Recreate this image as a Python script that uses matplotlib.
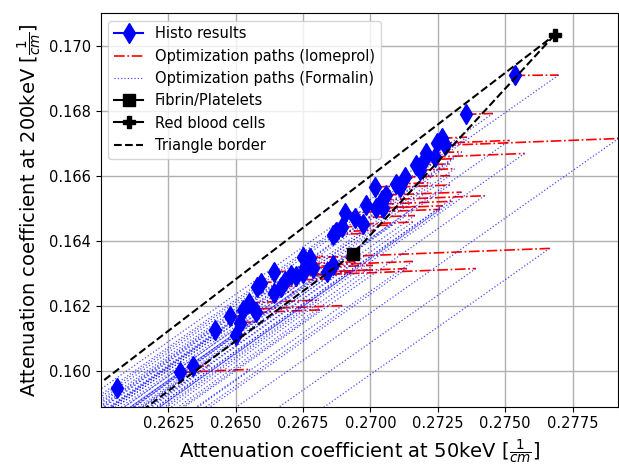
import numpy as np
import matplotlib
matplotlib.use("Agg")
import matplotlib.pyplot as plt

# Histo results (mu at 50 keV, mu at 200 keV)
histo_50 = [0.26061, 0.26294, 0.26343, 0.26424, 0.26480, 0.26502, 0.26517, 0.26528,
            0.26550, 0.26576, 0.26580, 0.26643, 0.26643, 0.26669, 0.26683, 0.26706,
            0.26724, 0.26750, 0.26757, 0.26776, 0.26787, 0.26750, 0.26839, 0.26861,
            0.26861, 0.26872, 0.26894, 0.26906, 0.26943, 0.26972, 0.26983, 0.27017,
            0.27020, 0.27043, 0.27046, 0.27057, 0.27094, 0.27109, 0.27128, 0.27169,
            0.27183, 0.27206, 0.27198, 0.27239, 0.27246, 0.27265, 0.27276, 0.27354,
            0.27535, 0.26776, 0.26594]
histo_200 = [0.15947, 0.15996, 0.16014, 0.16125, 0.16168, 0.16112, 0.16149, 0.16189,
             0.16210, 0.16180, 0.16259, 0.16305, 0.16241, 0.16259, 0.16278, 0.16296,
             0.16293, 0.16351, 0.16321, 0.16330, 0.16318, 0.16302, 0.16305, 0.16327,
             0.16419, 0.16428, 0.16443, 0.16486, 0.16471, 0.16452, 0.16511, 0.16566,
             0.16501, 0.16526, 0.16501, 0.16541, 0.16575, 0.16566, 0.16596, 0.16633,
             0.16618, 0.16670, 0.16649, 0.16658, 0.16700, 0.16716, 0.16694, 0.16789,
             0.16909, 0.16348, 0.16272]
# end of the iomeprol path for each histo point
iomeprol_50 = [0.26072, 0.26553, 0.26406, 0.26450, 0.26517, 0.26532, 0.26573, 0.26895,
               0.26809, 0.26813, 0.26617, 0.26754, 0.26717, 0.26725, 0.26831, 0.26928,
               0.27391, 0.26824, 0.26887, 0.26943, 0.27009, 0.27009, 0.27135, 0.27157,
               0.26972, 0.27020, 0.27079, 0.27258, 0.27165, 0.27157, 0.27305, 0.27128,
               0.27168, 0.27424, 0.27268, 0.27338, 0.27224, 0.27294, 0.27295, 0.27295,
               0.27313, 0.27339, 0.27309, 0.27572, 0.27516, 0.27358, 0.27920, 0.27454,
               0.27698, 0.27665, 0.26668]
iomeprol_200 = [0.15947, 0.16005, 0.16016, 0.16126, 0.16169, 0.16113, 0.16151, 0.16201,
                0.16218, 0.16188, 0.16260, 0.16309, 0.16243, 0.16261, 0.16283, 0.16303,
                0.16315, 0.16353, 0.16325, 0.16336, 0.16325, 0.16311, 0.16315, 0.16337,
                0.16423, 0.16433, 0.16449, 0.16497, 0.16478, 0.16458, 0.16522, 0.16569,
                0.16506, 0.16539, 0.16508, 0.16550, 0.16579, 0.16572, 0.16601, 0.16637,
                0.16622, 0.16674, 0.16653, 0.16669, 0.16709, 0.16719, 0.16715, 0.16792,
                0.16910, 0.16377, 0.16274]
formalin_slope = 0.583  # direction of the formalin paths
formalin_len = 0.05

fibrin = (0.26934, 0.16359)
rbc = (0.27683, 0.17033)
third_vertex = (0.1700, 0.1025)

fig = plt.figure(figsize=(6.19, 4.67), dpi=100)
ax = fig.add_axes([0.163, 0.129, 0.836, 0.8425])

for i in range(len(histo_50)):
    ax.plot([histo_50[i], iomeprol_50[i]], [histo_200[i], iomeprol_200[i]], 'r-.', linewidth=1.2,
            label='Optimization paths (Iomeprol)' if i == 0 else None, zorder=2)
for i in range(len(histo_50)):
    x1, y1 = iomeprol_50[i], iomeprol_200[i]
    ax.plot([x1, x1 - formalin_len], [y1, y1 - formalin_len * formalin_slope], 'b:', linewidth=0.9,
            alpha=0.7, label='Optimization paths (Formalin)' if i == 0 else None, zorder=2)
for i in range(len(histo_50)):
    ax.plot([histo_50[i]], [histo_200[i]], 'b-d', markersize=10,
            label='Histo results' if i == 0 else None, zorder=3)

ax.plot([fibrin[0]], [fibrin[1]], 'k-s', markersize=8, label='Fibrin/Platelets', zorder=4)
ax.plot([rbc[0]], [rbc[1]], 'k-P', markersize=9, label='Red blood cells', zorder=4)
tri_x = [rbc[0], fibrin[0], third_vertex[0], rbc[0]]
tri_y = [rbc[1], fibrin[1], third_vertex[1], rbc[1]]
ax.plot(tri_x, tri_y, 'k--', linewidth=1.5, label='Triangle border', zorder=3)

ax.set_xlim(0.2600, 0.2792)
ax.set_ylim(0.1589, 0.1710)
ax.set_xticks([0.2625, 0.2650, 0.2675, 0.2700, 0.2725, 0.2750, 0.2775])
ax.set_yticks([0.160, 0.162, 0.164, 0.166, 0.168, 0.170])
ax.tick_params(labelsize=10.5)
ax.grid(True, linewidth=1)
ax.set_xlabel(r'Attenuation coefficient at 50keV [$\frac{1}{cm}$]', fontsize=14)
ax.set_ylabel(r'Attenuation coefficient at 200keV [$\frac{1}{cm}$]', fontsize=14)

handles, labels = ax.get_legend_handles_labels()
order = ['Histo results', 'Optimization paths (Iomeprol)', 'Optimization paths (Formalin)',
         'Fibrin/Platelets', 'Red blood cells', 'Triangle border']
hl = {l: h for h, l in zip(handles, labels)}
ax.legend([hl[o] for o in order], order, loc='upper left', fontsize=10.5)

fig.savefig('out.png', dpi=100)
